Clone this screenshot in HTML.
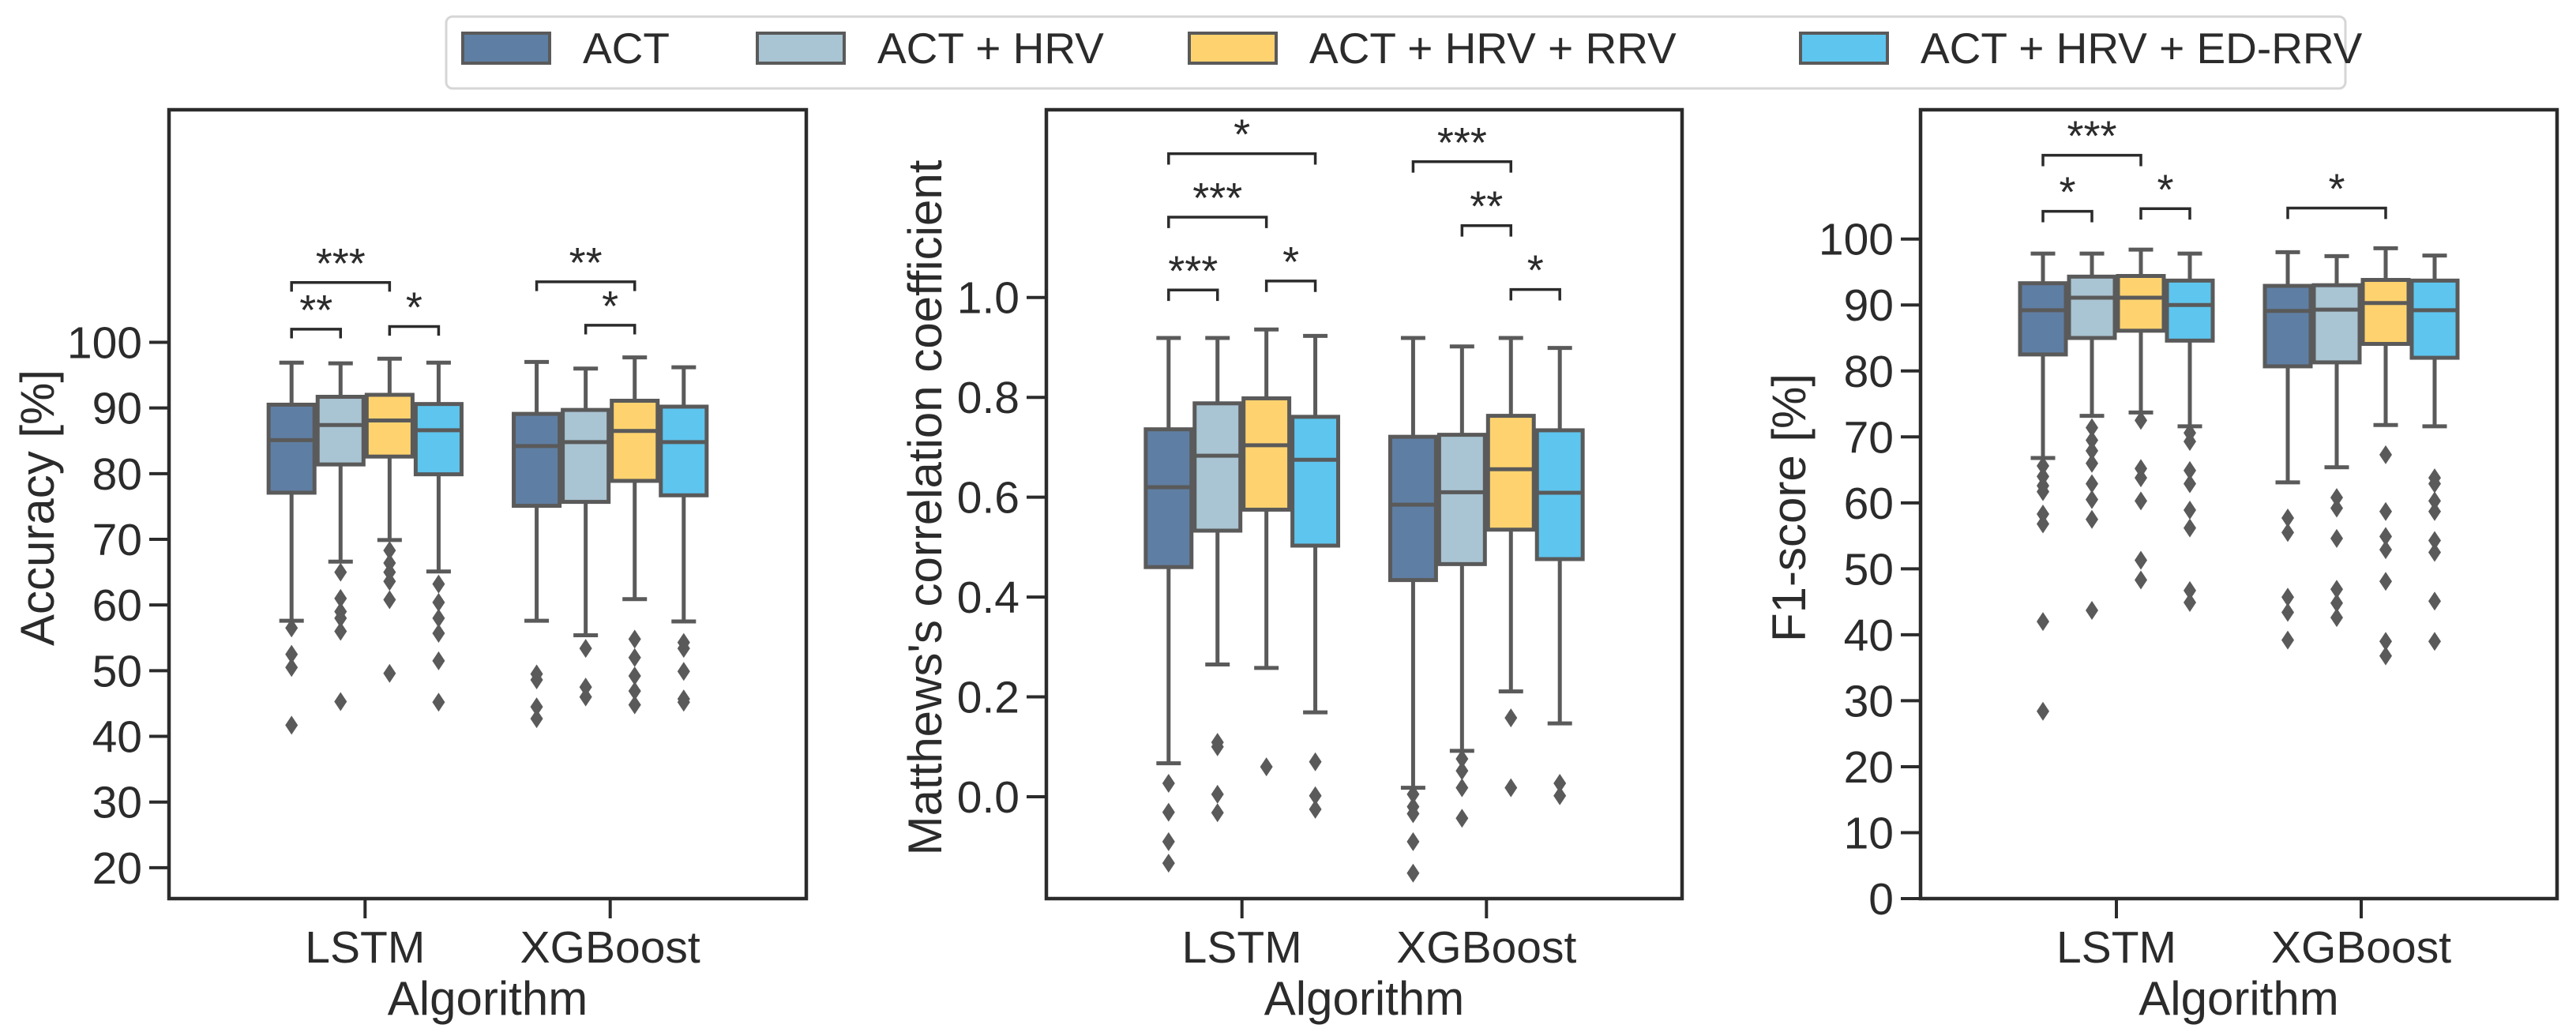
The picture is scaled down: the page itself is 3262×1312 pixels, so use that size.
<!DOCTYPE html>
<html><head><meta charset="utf-8"><style>
html,body{margin:0;padding:0;background:#fff;}
svg{display:block;font-family:"Liberation Sans",Arial,sans-serif;}
</style></head><body>
<svg id="fig" width="3262" height="1312" viewBox="0 0 3262 1312" xmlns="http://www.w3.org/2000/svg"></svg>
<script>
const seriesNames = ["ACT","ACT + HRV","ACT + HRV + RRV","ACT + HRV + ED-RRV"];
const seriesColors = ["#5f7ea3","#a9c4d2","#fed36f","#5ec5ee"];
const categories = ["LSTM","XGBoost"];

// Accuracy [%]: per category, per series: [lowWhisker, q1, median, q3, highWhisker]
const accLSTM = [[57.6,77.1,85.1,90.5,96.9],[66.6,81.4,87.4,91.7,96.8],[69.9,82.6,88.1,92.0,97.5],[65.1,79.9,86.6,90.6,96.9]];
const accXGB  = [[57.6,75.1,84.2,89.1,97.0],[55.4,75.7,84.8,89.7,96.0],[60.9,78.9,86.5,91.1,97.7],[57.5,76.7,84.8,90.2,96.2]];
const accOutLSTM = [[56.5,52.5,50.5,41.7],[65,61,59,58,56,45.3],[68.3,66.4,65,63.6,60.8,49.6],[63.2,60.4,58,55.7,51.5,45.2]];
const accOutXGB  = [[49.5,48.6,44.5,42.7],[53.4,47.5,46],[54.8,52,49.2,46.9,44.8],[54.3,53.4,49.9,45.7,45.2]];
const accTicks = [20,30,40,50,60,70,80,90,100];
const accSig = [[0,0,2,109.1,"***"],[0,0,1,102.0,"**"],[0,2,3,102.4,"*"],[1,0,2,109.2,"**"],[1,1,2,102.6,"*"]];

// MCC
const mccLSTM = [[0.067,0.460,0.620,0.736,0.919],[0.265,0.533,0.683,0.788,0.919],[0.258,0.575,0.704,0.798,0.936],[0.169,0.503,0.675,0.761,0.923]];
const mccXGB  = [[0.018,0.434,0.585,0.721,0.919],[0.092,0.466,0.610,0.725,0.902],[0.211,0.535,0.656,0.763,0.919],[0.147,0.476,0.609,0.734,0.899]];
const mccOutLSTM = [[0.027,-0.031,-0.09,-0.133],[0.109,0.1,0.005,-0.032],[0.06],[0.07,0.002,-0.025]];
const mccOutXGB  = [[0.005,-0.02,-0.034,-0.09,-0.153],[0.076,0.052,0.018,-0.043],[0.158,0.018],[0.027,0.002]];
const mccTicks = [0.0,0.2,0.4,0.6,0.8,1.0];
const mccSig = [[0,0,3,1.288,"*"],[0,0,2,1.161,"***"],[0,0,1,1.015,"***"],[0,2,3,1.033,"*"],[1,0,2,1.272,"***"],[1,1,2,1.144,"**"],[1,2,3,1.016,"*"]];

// F1-score [%]
const f1LSTM = [[66.8,82.5,89.2,93.3,97.8],[73.2,85.0,91.1,94.3,97.8],[73.7,86.1,91.1,94.4,98.4],[71.6,84.6,90.0,93.7,97.8]];
const f1XGB  = [[63.1,80.7,89.1,92.9,98.0],[65.4,81.3,89.3,93.0,97.4],[71.8,84.1,90.3,93.8,98.6],[71.6,82.0,89.2,93.7,97.5]];
const f1OutLSTM = [[65.6,64,62.6,61.7,58.3,56.8,42,28.4],[71.4,69.5,67.9,66,62.9,60.5,57.5,43.7],[72.5,65.2,63.8,60.3,51.3,48.3],[70.6,69.3,64.9,62.9,58.9,56.2,46.7,44.9]];
const f1OutXGB  = [[57.7,55.5,45.7,43.4,39.2],[60.8,59.2,54.6,46.9,44.8,42.6],[67.3,58.7,54.9,52.9,48.1,39,36.8],[63.8,62.9,60.3,58.7,54.3,52.5,45.1,39]];
const f1Ticks = [0,10,20,30,40,50,60,70,80,90,100];
const f1Sig = [[0,0,2,112.7,"***"],[0,0,1,104.2,"*"],[0,2,3,104.6,"*"],[1,0,2,104.7,"*"]];

const NS="http://www.w3.org/2000/svg";
const svg=document.getElementById('fig');
function mk(tag,attrs,parent){const e=document.createElementNS(NS,tag);for(const k in attrs)e.setAttribute(k,attrs[k]);(parent||svg).appendChild(e);return e;}
const GRAY="#5a5a5a", DARK="#2b2b2b";

function panel(cfg){
  const g=mk('g',{});
  
  
  const top=139,bottom=1138;
  const y=v=>bottom-(v-cfg.ymin)/(cfg.ymax-cfg.ymin)*(bottom-top);
  const x=c=>cfg.left+(c-(-0.8))/(2.6)*(cfg.right-cfg.left);
  const bw=(x(1)-x(0))*0.2;
  cfg.ticks.forEach(t=>{
    const tl=mk('line',{x1:cfg.left-25,x2:cfg.left,y1:y(t),y2:y(t),stroke:DARK,'stroke-width':4},g);
    
    
    const tx=mk('text',{x:cfg.left-34,y:y(t)+20,'text-anchor':'end','font-size':57,fill:DARK},g);
    
    
    tx.textContent=cfg.tickFmt(t);
  });
  categories.forEach((c,ci)=>{
    const cx=x(ci);
    const tl=mk('line',{x1:cx,x2:cx,y1:bottom,y2:bottom+25,stroke:DARK,'stroke-width':4},g);
    
    
    const tx=mk('text',{x:cx,y:1219,'text-anchor':'middle','font-size':57,fill:DARK},g);
    
    
    tx.textContent=c;
    const stats=cfg.stats[ci], outs=cfg.outs[ci];
    stats.forEach((s,si)=>{
      const bx=cx+(si-1.5)*bw;
      const [lo,q1,md,q3,hi]=s;
      const wg=mk('g',{},g);
      
      
      mk('line',{x1:bx,x2:bx,y1:y(hi),y2:y(q3),stroke:GRAY,'stroke-width':5},wg);
      mk('line',{x1:bx,x2:bx,y1:y(q1),y2:y(lo),stroke:GRAY,'stroke-width':5},wg);
      mk('line',{x1:bx-bw/4,x2:bx+bw/4,y1:y(hi),y2:y(hi),stroke:GRAY,'stroke-width':5},wg);
      mk('line',{x1:bx-bw/4,x2:bx+bw/4,y1:y(lo),y2:y(lo),stroke:GRAY,'stroke-width':5},wg);
      mk('rect',{x:bx-bw/2+2,y:y(q3),width:bw-4,height:y(q1)-y(q3),fill:seriesColors[si],stroke:GRAY,'stroke-width':5},wg);
      mk('line',{x1:bx-bw/2+2,x2:bx+bw/2-2,y1:y(md),y2:y(md),stroke:GRAY,'stroke-width':5},wg);
      outs[si].forEach(o=>{
        const py=y(o);
        const d=mk('polygon',{points:`${bx},${py-12} ${bx+8},${py} ${bx},${py+12} ${bx-8},${py}`,fill:GRAY},wg);
        
        
      });
    });
  });
  cfg.sig.forEach(s=>{
    const [ci,a,b,v,lab]=s;
    const x1=x(ci)+(a-1.5)*bw, x2=x(ci)+(b-1.5)*bw;
    const yy=y(v), leg=y(v-cfg.leg);
    const sg=mk('g',{},g);
    
    
    mk('polyline',{points:`${x1},${leg} ${x1},${yy} ${x2},${yy} ${x2},${leg}`,fill:'none',stroke:DARK,'stroke-width':3.5},sg);
    const t=mk('text',{x:(x1+x2)/2,y:yy-6,'text-anchor':'middle','font-size':54,fill:DARK},sg);
    t.textContent=lab;
  });
  const fr=mk('rect',{x:cfg.left,y:top,width:cfg.right-cfg.left,height:bottom-top,fill:'none',stroke:DARK,'stroke-width':4.5},g);
  
  
  const yl=mk('text',{x:0,y:0,transform:`translate(${cfg.ylx},643) rotate(-90)`,'text-anchor':'middle','font-size':60,fill:DARK},g);
  
  
  yl.textContent=cfg.ylabel;
  const xl=mk('text',{x:(x(0)+x(1))/2,y:1285,'text-anchor':'middle','font-size':60,fill:DARK},g);
  
  
  xl.textContent="Algorithm";
}

panel({name:'accuracy-panel',left:214,right:1021,ymin:15.3,ymax:135.4,ticks:accTicks,tickFmt:t=>String(t),
  stats:[accLSTM,accXGB],outs:[accOutLSTM,accOutXGB],sig:accSig,leg:1.4,ylabel:"Accuracy [%]",ylx:68});
panel({name:'mcc-panel',left:1325,right:2130,ymin:-0.204,ymax:1.376,ticks:mccTicks,tickFmt:t=>t.toFixed(1),
  stats:[mccLSTM,mccXGB],outs:[mccOutLSTM,mccOutXGB],sig:mccSig,leg:0.022,ylabel:"Matthews's correlation coefficient",ylx:1192});
panel({name:'f1-panel',left:2432,right:3238,ymin:0,ymax:119.6,ticks:f1Ticks,tickFmt:t=>String(t),
  stats:[f1LSTM,f1XGB],outs:[f1OutLSTM,f1OutXGB],sig:f1Sig,leg:1.66,ylabel:"F1-score [%]",ylx:2286});

const lg=mk('g',{});


mk('rect',{x:565,y:21,width:2405,height:91,rx:8,fill:'#fff',stroke:'#d6d6d6','stroke-width':3},lg);
const legX=[586,959,1506,2280];
seriesNames.forEach((n,i)=>{
  const e=mk('g',{},lg);
  
  
  mk('rect',{x:legX[i],y:42,width:110,height:38,fill:seriesColors[i],stroke:GRAY,'stroke-width':4},e);
  const t=mk('text',{x:legX[i]+152,y:80,'font-size':55,fill:DARK},e);
  t.textContent=n;
});
</script>
</body></html>
